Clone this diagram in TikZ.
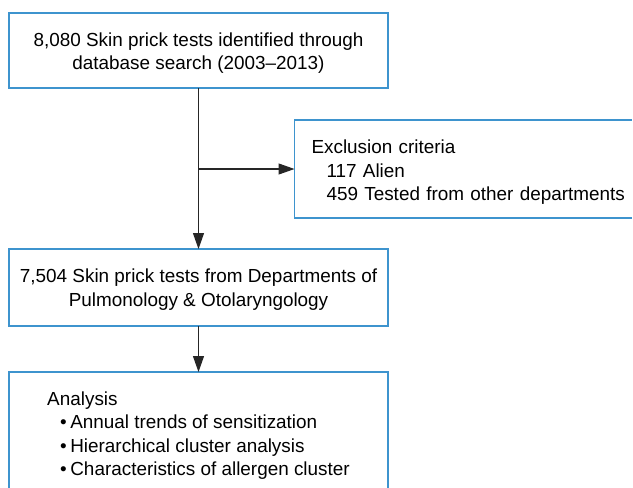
\documentclass[tikz,border=0pt]{standalone}
\usepackage{fontspec}
\setmainfont{Liberation Sans}
\usepackage{xcolor}
\usetikzlibrary{arrows.meta, positioning}
\definecolor{boxline}{RGB}{62,148,206}
\newcommand{\topstrut}[1]{\rule{0pt}{#1}}
\tikzset{
    box/.style={
        rectangle,
        draw=boxline,
        line width=1.5pt,
        outer sep=0pt,
        text centered,
        font=\fontsize{18.9pt}{23.5pt}\selectfont
    },
    listbox/.style={
        box,
        align=left
    },
    openborder/.style={
        draw=boxline,
        line width=1.5pt
    },
    flow/.style={
        draw=black!85,
        line width=1.2pt,
        -{Triangle[length=16pt, width=11pt]}
    }
}
\begin{document}
\begin{tikzpicture}[x=1pt, y=-1pt]

\useasboundingbox (0,0) rectangle (633,488);
\coordinate (edge) at (631.5,0);

% Main flow
\node[box, align=center, minimum width=379pt, minimum height=75pt] (search) at (198.5,50.5)
    {\topstrut{18.5pt}8,080 Skin prick tests identified through\\database search (2003--2013)};
\node[box, align=center, minimum width=379pt, minimum height=77pt, below=161pt of search] (included)
    {\topstrut{18pt}7,504 Skin prick tests from Departments of\\Pulmonology \& Otolaryngology};
\node[listbox, minimum width=379pt, minimum height=121pt, below=46pt of included] (analysis)
    {\topstrut{20pt}Analysis\\
     \hspace*{13pt}\textbullet\hspace{3.5pt}Annual trends of sensitization\\
     \hspace*{13pt}\textbullet\hspace{3.5pt}Hierarchical cluster analysis\\
     \hspace*{13pt}\textbullet\hspace{3.5pt}Characteristics of allergen cluster};

% Exclusions (box runs off the right edge)
\coordinate[below=81pt of search] (split);
\node[listbox, draw=none, text width=380pt, inner xsep=17pt, minimum height=98pt, right=96pt of split] (excluded)
    {\topstrut{20.5pt}Exclusion criteria\\
     \hspace*{15pt}117 Alien\\
     \hspace*{15pt}459 Tested from other departments};
\draw[openborder] (excluded.north west -| edge) -- (excluded.north west)
    -- (excluded.south west) -- (excluded.south west -| edge);

% Connections
\draw[flow] (search) -- (included);
\draw[flow] (split) -- (excluded);
\draw[flow] (included) -- (analysis);

\end{tikzpicture}
\end{document}
